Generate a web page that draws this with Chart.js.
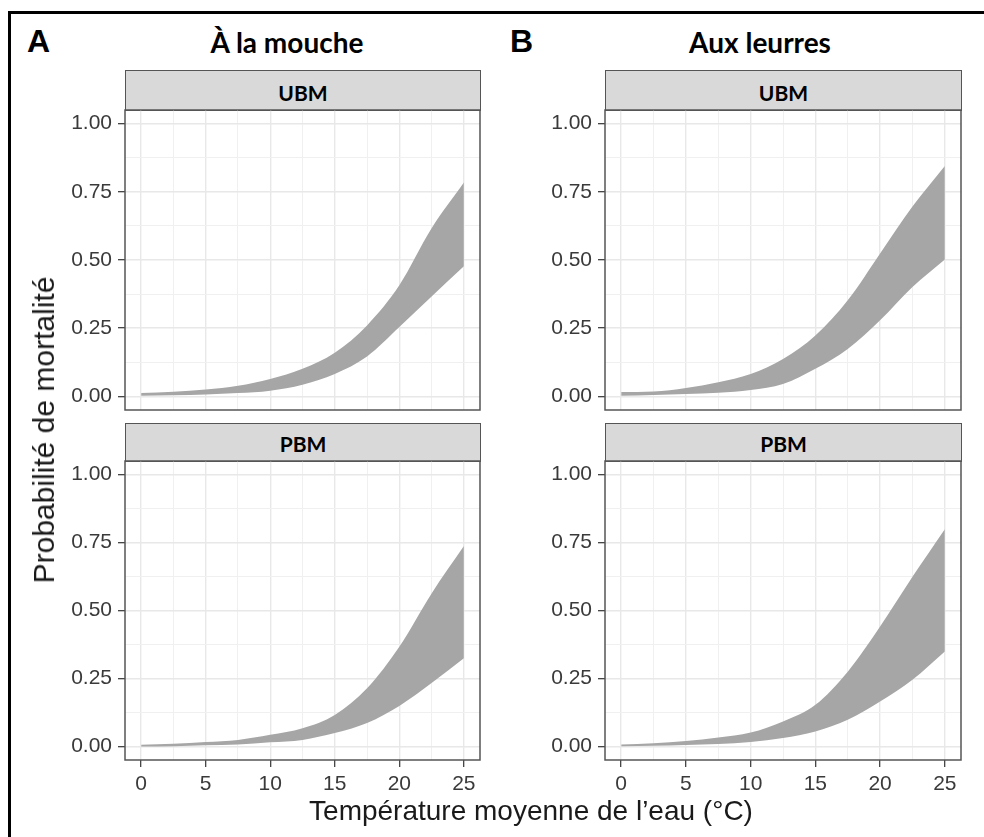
<!DOCTYPE html>
<html><head><meta charset="utf-8">
<script src="https://cdn.jsdelivr.net/npm/chart.js@4.4.0/dist/chart.umd.min.js"></script>
<style>
html,body{margin:0;padding:0;background:#fff;}
body{width:984px;height:837px;overflow:hidden;position:relative;font-family:"Liberation Sans",Arial,sans-serif;}
.frame{position:absolute;left:8px;top:11px;width:1100px;height:1000px;border-left:3px solid #000;border-top:3px solid #000;}
canvas{position:absolute;}
.strip{position:absolute;background:#d9d9d9;border:1.5px solid #555;box-sizing:border-box;text-align:center;font-family:Lato,sans-serif;font-weight:bold;font-size:21px;line-height:21px;color:#000;}
.lab{position:absolute;font-family:"Liberation Sans",Arial,sans-serif;font-weight:bold;font-size:32px;line-height:32px;color:#000;}
.ttl{position:absolute;font-family:Lato,sans-serif;font-weight:bold;font-size:28px;line-height:28px;color:#000;white-space:nowrap;transform:translateX(-50%);}
.axt{position:absolute;font-family:"Liberation Sans",Arial,sans-serif;font-size:28px;line-height:28px;color:#1a1a1a;white-space:nowrap;}
</style></head>
<body>
<div class="frame"></div>
<div class="lab" style="left:27px;top:25px;">A</div>
<div class="lab" style="left:510px;top:25px;">B</div>
<div class="ttl" style="left:287px;top:28px;">À la mouche</div>
<div class="ttl" style="left:760px;top:28px;">Aux leurres</div>

<div class="strip" style="left:125px;top:70px;width:356px;height:41px;padding-top:11px;">UBM</div>
<div class="strip" style="left:605px;top:70px;width:357px;height:41px;padding-top:11px;">UBM</div>
<div class="strip" style="left:125px;top:423px;width:356px;height:39px;padding-top:9px;">PBM</div>
<div class="strip" style="left:605px;top:423px;width:357px;height:39px;padding-top:9px;">PBM</div>

<canvas id="cA1" width="440" height="320" style="left:50px;top:100px;"></canvas>
<canvas id="cA2" width="440" height="360" style="left:50px;top:451px;"></canvas>
<canvas id="cB1" width="440" height="320" style="left:530px;top:100px;"></canvas>
<canvas id="cB2" width="440" height="360" style="left:530px;top:451px;"></canvas>

<div class="axt" style="left:44px;top:430px;font-size:30px;line-height:30px;transform:translate(-50%,-50%) rotate(-90deg);">Probabilité de mortalité</div>
<div class="axt" style="left:531px;top:797px;transform:translateX(-50%);">Température moyenne de l’eau (°C)</div>

<script>
// ---- data ----
const temps = [0, 2.5, 5, 7.5, 10, 12.5, 15, 17.5, 20, 22.5, 25];

const moucheUBM_low  = [0.002, 0.004, 0.007, 0.012, 0.021, 0.043, 0.082, 0.146, 0.254, 0.366, 0.477];
const moucheUBM_high = [0.012, 0.017, 0.025, 0.039, 0.064, 0.101, 0.160, 0.260, 0.407, 0.616, 0.784];

const leurresUBM_low  = [0.002, 0.005, 0.009, 0.013, 0.023, 0.045, 0.101, 0.174, 0.279, 0.401, 0.502];
const leurresUBM_high = [0.016, 0.018, 0.031, 0.052, 0.082, 0.137, 0.223, 0.352, 0.524, 0.696, 0.845];

const mouchePBM_low  = [0.000, 0.001, 0.004, 0.007, 0.015, 0.024, 0.049, 0.086, 0.149, 0.233, 0.324];
const mouchePBM_high = [0.006, 0.010, 0.016, 0.024, 0.043, 0.067, 0.116, 0.214, 0.367, 0.563, 0.737];

const leurresPBM_low  = [0.001, 0.002, 0.005, 0.009, 0.016, 0.031, 0.055, 0.098, 0.165, 0.245, 0.349];
const leurresPBM_high = [0.007, 0.012, 0.020, 0.033, 0.051, 0.092, 0.153, 0.275, 0.441, 0.624, 0.799];

const xTickValues = [0, 5, 10, 15, 20, 25];
const xTickLabels = ['0', '5', '10', '15', '20', '25'];
const xMinorValues = [2.5, 7.5, 12.5, 17.5, 22.5];
const yTickValues = [0, 0.25, 0.5, 0.75, 1];
const yTickLabels = ['0.00', '0.25', '0.50', '0.75', '1.00'];
const yMinorValues = [0.125, 0.375, 0.625, 0.875];

// ---- drawing ----
const framePlugin = {
  id: 'frame',
  afterDraw(chart) {
    const a = chart.chartArea, c = chart.ctx;
    c.save();
    c.strokeStyle = '#555';
    c.lineWidth = 1.5;
    c.strokeRect(a.left, a.top, a.right - a.left, a.bottom - a.top);
    c.restore();
  }
};

function isIn(arr, v) { return arr.some(t => Math.abs(t - v) < 1e-9); }
function noPad(s) { s.paddingTop = 0; s.paddingBottom = 0; s.paddingLeft = 0; s.paddingRight = 0; }

function makeChart(id, low, high, showX, padRight) {
  const toPts = arr => temps.map((t, i) => ({x: t, y: arr[i]}));
  new Chart(document.getElementById(id), {
    type: 'line',
    data: {
      datasets: [
        {data: toPts(low), borderWidth: 0, pointRadius: 0, fill: false, cubicInterpolationMode: 'monotone', borderColor: 'rgba(0,0,0,0)'},
        {data: toPts(high), borderWidth: 0, pointRadius: 0, fill: '-1', backgroundColor: '#a6a6a6', cubicInterpolationMode: 'monotone', borderColor: 'rgba(0,0,0,0)'}
      ]
    },
    options: {
      responsive: false,
      animation: false,
      devicePixelRatio: 1,
      events: [],
      layout: {padding: {top: 10, right: padRight, left: 0, bottom: 0}},
      plugins: {legend: {display: false}, tooltip: {enabled: false}},
      scales: {
        x: {
          type: 'linear', min: -1.25, max: 26.25,
          afterBuildTicks: s => { s.ticks = xTickValues.concat(xMinorValues).sort((a,b)=>a-b).map(v => ({value: v})); },
          afterFit: s => { s.height = showX ? 51 : 10; noPad(s); },
          border: {display: false},
          grid: {
            color: ctx => isIn(xTickValues, ctx.tick.value) ? '#e8e8e8' : '#f0f0f0',
            lineWidth: ctx => isIn(xTickValues, ctx.tick.value) ? 1.4 : 1,
            drawTicks: showX,
            tickLength: 7,
            tickWidth: 1.2,
            tickColor: ctx => isIn(xTickValues, ctx.tick.value) ? '#333' : 'rgba(0,0,0,0)'
          },
          ticks: {
            display: showX,
            padding: 5,
            color: '#3a3a3a',
            font: {family: '"Liberation Sans", Arial, sans-serif', size: 21},
            maxRotation: 0, autoSkip: false,
            callback: v => { const i = xTickValues.findIndex(t => Math.abs(t - v) < 1e-9); return i >= 0 ? xTickLabels[i] : ''; }
          }
        },
        y: {
          type: 'linear', min: -0.05, max: 1.05,
          afterBuildTicks: s => { s.ticks = yTickValues.concat(yMinorValues).sort((a,b)=>a-b).map(v => ({value: v})); },
          afterFit: s => { s.width = 75; noPad(s); },
          border: {display: false},
          grid: {
            color: ctx => isIn(yTickValues, ctx.tick.value) ? '#e8e8e8' : '#f0f0f0',
            lineWidth: ctx => isIn(yTickValues, ctx.tick.value) ? 1.4 : 1,
            tickLength: 7,
            tickWidth: 1.2,
            tickColor: ctx => isIn(yTickValues, ctx.tick.value) ? '#333' : 'rgba(0,0,0,0)'
          },
          ticks: {
            padding: 6,
            color: '#3a3a3a',
            font: {family: '"Liberation Sans", Arial, sans-serif', size: 21},
            autoSkip: false,
            callback: v => { const i = yTickValues.findIndex(t => Math.abs(t - v) < 1e-9); return i >= 0 ? yTickLabels[i] : ''; }
          }
        }
      }
    },
    plugins: [framePlugin]
  });
}

makeChart('cA1', moucheUBM_low, moucheUBM_high, false, 10);
makeChart('cA2', mouchePBM_low, mouchePBM_high, true, 10);
makeChart('cB1', leurresUBM_low, leurresUBM_high, false, 9);
makeChart('cB2', leurresPBM_low, leurresPBM_high, true, 9);
</script>
</body></html>
